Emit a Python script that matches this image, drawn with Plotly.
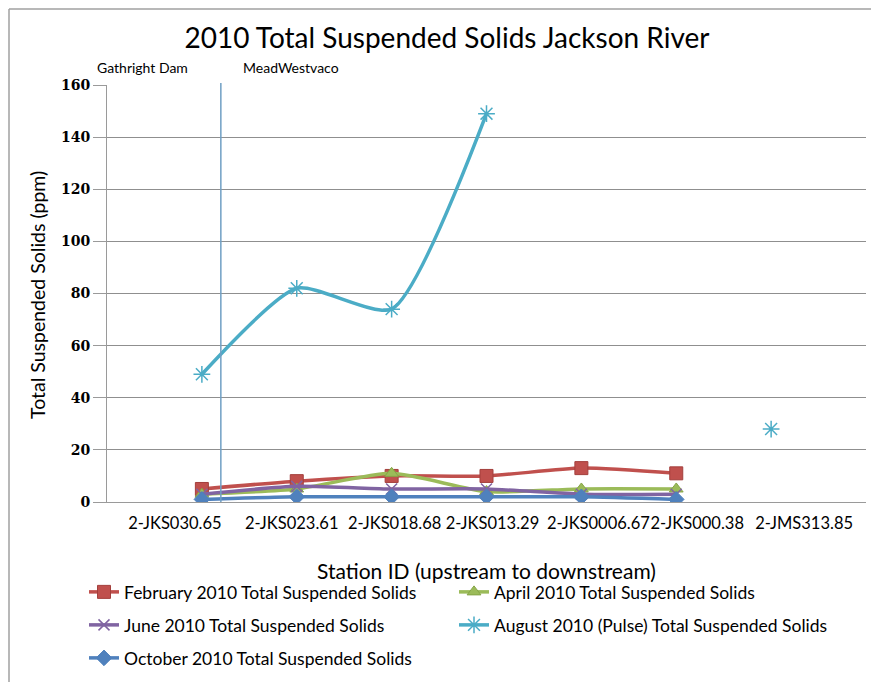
import plotly.graph_objects as go

# page is rendered with an 8px body margin, so size/position the figure to compensate
PAGE_OFF = 8
W, H = 879 - PAGE_OFF, 682 - PAGE_OFF

stations = ["2-JKS030.65", "2-JKS023.61", "2-JKS018.68", "2-JKS013.29",
            "2-JKS0006.67", "2-JKS000.38", "2-JMS313.85"]
station_pos = [1, 2, 3, 4, 5, 6, 7]
# horizontal shift (in px) of each station label relative to its point, as in the original
label_shift_px = [-27, -5, 3, 6, 17, 21, 33]

feb = [5, 8, 10, 10, 13, 11, None]
apr = [3, 5, 11, 4, 5, 5, None]
jun = [3, 6, 5, 5, 3, 3, None]
aug = [49, 82, 74, 149, None, None, 28]
octo = [1, 2, 2, 2, 2, 1, None]

series = [
    ("February 2010 Total Suspended Solids", feb, "#C0504D", "square", 13, "#a33f3c"),
    ("April 2010 Total Suspended Solids", apr, "#9BBB59", "triangle-up", 12, "#86a547"),
    ("June 2010 Total Suspended Solids", jun, "#8064A2", "x-thin-open", 11, "#8064A2"),
    ("August 2010 (Pulse) Total Suspended Solids", aug, "#4BACC6", "asterisk-open", 14, "#4BACC6"),
    ("October 2010 Total Suspended Solids", octo, "#4F81BD", "diamond", 12, "#4F81BD"),
]

FONT = "Lato, sans-serif"

def px_x(p):
    return (p - PAGE_OFF) / W

def px_y(p):
    return 1 - (p - PAGE_OFF) / H

X0, X1 = 107, 866          # plot area (page px)
XR = [0, 8]
unit_px = (X1 - X0) / (XR[1] - XR[0])
label_pos = [p + s / unit_px for p, s in zip(station_pos, label_shift_px)]

fig = go.Figure()

legend_pos = [(84, 592), (454, 592), (84, 625), (454, 625), (84, 658)]
for i, (name, vals, col, sym, sz, lc) in enumerate(series):
    lg = "legend" if i == 0 else f"legend{i+1}"
    fig.add_trace(go.Scatter(
        x=station_pos, y=vals, name=name, mode="lines+markers",
        line=dict(color=col, width=3.5, shape="spline", smoothing=0.6),
        marker=dict(symbol=sym, size=sz, color=col,
                    line=dict(color=lc, width=1.5 if "open" in sym else 1)),
        connectgaps=False, legend=lg,
    ))

layout_legends = {}
for i, (lx, ly) in enumerate(legend_pos):
    key = "legend" if i == 0 else f"legend{i+1}"
    layout_legends[key] = dict(
        x=px_x(lx), y=px_y(ly), xanchor="left", yanchor="middle",
        xref="paper", yref="paper",
        font=dict(family=FONT, size=17.5, color="#000"),
        bgcolor="rgba(0,0,0,0)", itemwidth=30,
    )

fig.update_layout(
    width=W, height=H,
    margin=dict(l=0, r=0, t=0, b=0, autoexpand=False),
    paper_bgcolor="white", plot_bgcolor="white",
    showlegend=True,
    title=dict(text="2010 Total Suspended Solids Jackson River",
               x=px_x(447), xanchor="center", y=px_y(38), yanchor="middle",
               font=dict(family=FONT, size=28, color="#000")),
    xaxis=dict(domain=[px_x(X0), px_x(X1)], range=XR,
               tickvals=label_pos, ticktext=stations, tickangle=0,
               automargin=False, ticklabelstandoff=6,
               showgrid=False, zeroline=False, showline=True,
               linecolor="#9a9a9a", linewidth=1,
               ticks="", tickfont=dict(family=FONT, size=16.5, color="#000")),
    yaxis=dict(domain=[px_y(502), px_y(85)], range=[0, 160], dtick=20,
               automargin=False,
               showgrid=True, gridcolor="#8f8f8f", gridwidth=1,
               zeroline=False, showline=True, linecolor="#9a9a9a", linewidth=1,
               ticks="outside", ticklen=13, tickcolor="#9a9a9a",
               tickfont=dict(family="DejaVu Serif, serif", size=14, color="#000",
                             weight="bold")),
    **layout_legends,
)

# axis titles
fig.add_annotation(text="Station ID (upstream to downstream)", x=px_x(486), y=px_y(570),
                   xref="paper", yref="paper", showarrow=False,
                   xanchor="center", yanchor="middle",
                   font=dict(family=FONT, size=21, color="#000"))
fig.add_annotation(text="Total Suspended Solids (ppm)", x=px_x(37), y=px_y(295),
                   xref="paper", yref="paper", showarrow=False, textangle=-90,
                   xanchor="center", yanchor="middle",
                   font=dict(family=FONT, size=19.5, color="#000"))

# vertical marker line between Gathright Dam and MeadWestvaco
fig.add_shape(type="line", xref="x", yref="paper", x0=1.2, x1=1.2,
              y0=px_y(502), y1=px_y(83), line=dict(color="#6f9fc4", width=1.5))

fig.add_annotation(text="Gathright Dam", x=px_x(142), y=px_y(68), xref="paper", yref="paper",
                   showarrow=False, xanchor="center", yanchor="middle",
                   font=dict(family=FONT, size=14, color="#000"))
fig.add_annotation(text="MeadWestvaco", x=px_x(291), y=px_y(68), xref="paper", yref="paper",
                   showarrow=False, xanchor="center", yanchor="middle",
                   font=dict(family=FONT, size=14, color="#000"))

# chart frame
fig.add_shape(type="line", xref="paper", yref="paper", x0=px_x(9), x1=1, y0=px_y(9), y1=px_y(9),
              line=dict(color="#a0a0a0", width=1.5))
fig.add_shape(type="line", xref="paper", yref="paper", x0=px_x(9), x1=px_x(9), y0=0, y1=px_y(9),
              line=dict(color="#a0a0a0", width=1.5))

fig.write_html("out.html")
